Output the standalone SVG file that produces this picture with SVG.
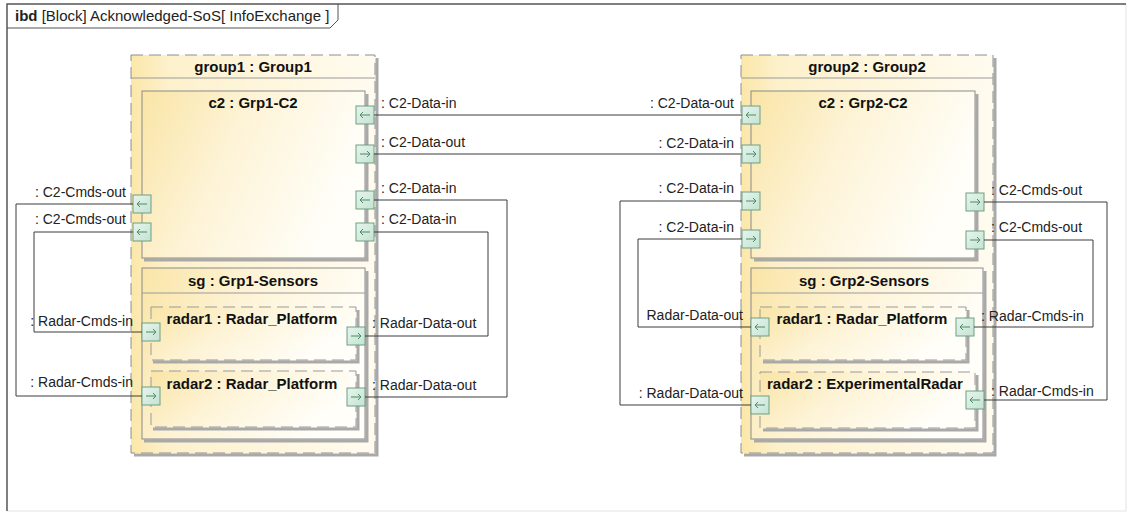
<svg xmlns="http://www.w3.org/2000/svg" xmlns:xlink="http://www.w3.org/1999/xlink" width="1130" height="514" viewBox="0 0 1130 514">
<style>
.t{font-family:"Liberation Sans",Arial,sans-serif;font-size:14px;fill:#222}
.ft{font-family:"Liberation Sans",Arial,sans-serif;font-size:15px;fill:#222}
.tb{font-family:"Liberation Sans",Arial,sans-serif;font-size:15px;font-weight:bold;fill:#111;text-anchor:middle}
.e{text-anchor:end}
.grp{fill:url(#gOuter);stroke:#8e8e8e;stroke-width:1;stroke-dasharray:12 6}
.part{fill:url(#gPart);stroke:#8a8a8a;stroke-width:1}
.ref{fill:url(#gPart);stroke:#9a9a9a;stroke-width:1;stroke-dasharray:12 6}
.shd{fill:none;stroke:#a9a9a9;stroke-width:3}
.hdr{stroke:#9a9a9a;stroke-width:1}
.port{fill:url(#gPort);stroke:#6f9f80;stroke-width:1}
.parr{fill:none;stroke:#4f8a62;stroke-width:1}
.cn{fill:none;stroke:#3c3c3c;stroke-width:1}
</style>
<defs>
<linearGradient id="gOuter" x1="0" y1="0" x2="1" y2="0">
<stop offset="0" stop-color="#fbe7a8"/><stop offset="0.15" stop-color="#fdf1cc"/><stop offset="1" stop-color="#fffbef"/>
</linearGradient>
<linearGradient id="gPart" x1="0" y1="0" x2="1" y2="0.35">
<stop offset="0" stop-color="#fae5a6"/><stop offset="0.45" stop-color="#fdf3d6"/><stop offset="1" stop-color="#fffef9"/>
</linearGradient>
<linearGradient id="gPort" x1="0" y1="0" x2="1" y2="1">
<stop offset="0" stop-color="#e6f5ee"/><stop offset="1" stop-color="#c4e3d3"/>
</linearGradient>
<g id="pR"><rect class="port" x="-9" y="-9" width="18" height="18"/><path class="parr" d="M-5,0H5M2,-3L5,0L2,3"/></g>
<g id="pL"><rect class="port" x="-9" y="-9" width="18" height="18"/><path class="parr" d="M5,0H-5M-2,-3L-5,0L-2,3"/></g>
</defs>
<rect width="1130" height="514" fill="#ffffff"/>

<g id="frame">
<path d="M1126,4V511H7" fill="none" stroke="#e4e4e4" stroke-width="1"/>
<path d="M7,511V4H1126" fill="none" stroke="#555" stroke-width="1.5"/>
<path d="M7,28H330L338,20V4" fill="none" stroke="#555" stroke-width="1"/>
<text class="ft" x="15" y="21"><tspan font-weight="bold">ibd</tspan> [Block] Acknowledged-SoS[ InfoExchange ]</text>
</g>

<g id="group1">
<path class="shd" d="M377,58V455H134"/>
<rect class="grp" x="131" y="55" width="244" height="398"/>
<line class="hdr" x1="131" y1="78" x2="375" y2="78"/>
<text class="tb" x="253" y="72">group1 : Group1</text>
</g>
<g id="g1-c2">
<path class="shd" d="M367,94V260H144"/>
<rect class="part" x="142" y="91" width="223" height="167"/>
<text class="tb" x="253" y="108">c2 : Grp1-C2</text>
<use href="#pL" x="365" y="115"/>
<use href="#pR" x="365" y="154"/>
<use href="#pL" x="365" y="200"/>
<use href="#pL" x="365" y="232"/>
<use href="#pL" x="142" y="204"/>
<use href="#pL" x="142" y="232"/>
</g>
<g id="g1-sg">
<path class="shd" d="M367,271V441H144"/>
<rect class="part" x="142" y="268" width="223" height="171"/>
<line class="hdr" x1="142" y1="293" x2="365" y2="293"/>
<text class="tb" x="253" y="286">sg : Grp1-Sensors</text>
</g>
<g id="g1-radar1">
<path class="shd" d="M358,310V362H153"/>
<rect class="ref" x="151" y="307" width="205" height="53"/>
<text class="tb" x="252" y="324">radar1 : Radar_Platform</text>
<use href="#pR" x="151" y="332"/>
<use href="#pR" x="356" y="336"/>
</g>
<g id="g1-radar2">
<path class="shd" d="M358,374V429H153"/>
<rect class="ref" x="151" y="371" width="205" height="56"/>
<text class="tb" x="252" y="389">radar2 : Radar_Platform</text>
<use href="#pR" x="151" y="396"/>
<use href="#pR" x="356" y="397"/>
</g>

<g id="group2">
<path class="shd" d="M995,58V455H744"/>
<rect class="grp" x="741" y="55" width="252" height="398"/>
<line class="hdr" x1="741" y1="78" x2="993" y2="78"/>
<text class="tb" x="867" y="72">group2 : Group2</text>
</g>
<g id="g2-c2">
<path class="shd" d="M977,94V260H754"/>
<rect class="part" x="751" y="91" width="224" height="167"/>
<text class="tb" x="863" y="108">c2 : Grp2-C2</text>
<use href="#pL" x="751" y="115"/>
<use href="#pR" x="751" y="154"/>
<use href="#pR" x="751" y="201"/>
<use href="#pR" x="751" y="239"/>
<use href="#pR" x="975" y="202"/>
<use href="#pR" x="975" y="240"/>
</g>
<g id="g2-sg">
<path class="shd" d="M985,271V441H754"/>
<rect class="part" x="751" y="268" width="232" height="171"/>
<line class="hdr" x1="751" y1="293" x2="983" y2="293"/>
<text class="tb" x="864" y="286">sg : Grp2-Sensors</text>
</g>
<g id="g2-radar1">
<path class="shd" d="M968,310V362H763"/>
<rect class="ref" x="760" y="307" width="206" height="53"/>
<text class="tb" x="862" y="324">radar1 : Radar_Platform</text>
<use href="#pL" x="760" y="327"/>
<use href="#pL" x="965" y="327"/>
</g>
<g id="g2-radar2">
<path class="shd" d="M977,375V430H763"/>
<rect class="ref" x="760" y="372" width="215" height="56"/>
<text class="tb" x="865" y="389">radar2 : ExperimentalRadar</text>
<use href="#pL" x="760" y="405"/>
<use href="#pL" x="975" y="400"/>
</g>

<g id="connectors">
<path class="cn" d="M374,115H742"/>
<path class="cn" d="M374,154H742"/>
<path class="cn" d="M374,200H507V397H365"/>
<path class="cn" d="M374,232H488V336H365"/>
<path class="cn" d="M133,204H16V396H142"/>
<path class="cn" d="M133,232H34V332H142"/>
<path class="cn" d="M742,201H620V405H751"/>
<path class="cn" d="M742,239H638V327H751"/>
<path class="cn" d="M984,202H1107V400H984"/>
<path class="cn" d="M984,240H1093V327H974"/>
</g>

<g id="labels">
<text class="t" x="381" y="108">: C2-Data-in</text>
<text class="t" x="381" y="147">: C2-Data-out</text>
<text class="t" x="381" y="193">: C2-Data-in</text>
<text class="t" x="381" y="224">: C2-Data-in</text>
<text class="t" x="372" y="328">: Radar-Data-out</text>
<text class="t" x="372" y="390">: Radar-Data-out</text>
<text class="t e" x="126" y="197">: C2-Cmds-out</text>
<text class="t e" x="126" y="224">: C2-Cmds-out</text>
<text class="t e" x="133" y="326">: Radar-Cmds-in</text>
<text class="t e" x="133" y="387">: Radar-Cmds-in</text>
<text class="t e" x="734" y="108">: C2-Data-out</text>
<text class="t e" x="734" y="148">: C2-Data-in</text>
<text class="t e" x="734" y="193">: C2-Data-in</text>
<text class="t e" x="734" y="232">: C2-Data-in</text>
<text class="t e" x="743" y="320">Radar-Data-out</text>
<text class="t e" x="743" y="398">: Radar-Data-out</text>
<text class="t" x="991" y="195">: C2-Cmds-out</text>
<text class="t" x="991" y="232">: C2-Cmds-out</text>
<text class="t" x="981" y="321">: Radar-Cmds-in</text>
<text class="t" x="991" y="396">: Radar-Cmds-in</text>
</g>
</svg>
